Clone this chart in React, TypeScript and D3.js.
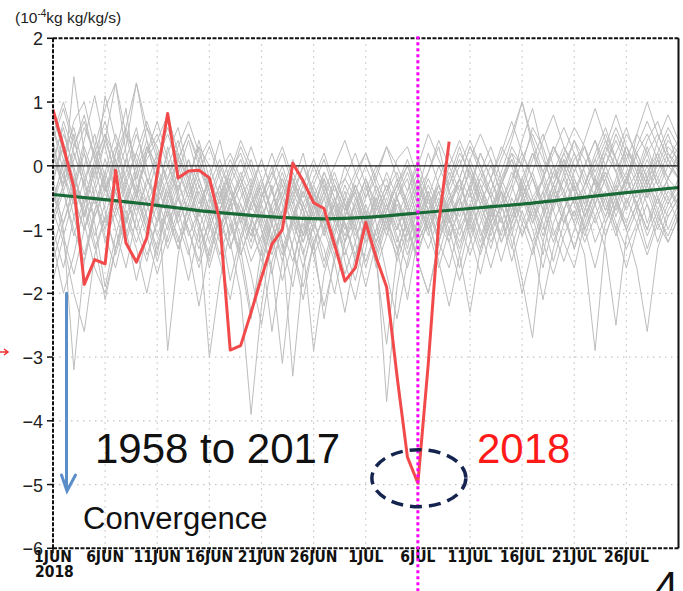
import React from 'react';
import * as d3 from 'd3';

const W = 683;
const H = 591;

// x axis: day index from 1 Jun 2018
const tickDays = [0, 5, 10, 15, 20, 25, 30, 35, 40, 45, 50, 55];
const tickLabels = ['1JUN', '6JUN', '11JUN', '16JUN', '21JUN', '26JUN', '1JUL', '6JUL', '11JUL', '16JUL', '21JUL', '26JUL'];
const yTicks = [2, 1, 0, -1, -2, -3, -4, -5, -6];

// 2018 (red)
const values2018 = [
  0.88, 0.3, -0.34, -1.86, -1.47, -1.54, -0.07, -1.21, -1.51, -1.13,
  -0.12, 0.82, -0.19, -0.08, -0.07, -0.19, -0.87, -2.89, -2.82, -2.3,
  -1.75, -1.23, -1.0, 0.04, -0.24, -0.58, -0.67, -1.23, -1.81, -1.6,
  -0.89, -1.44, -1.9, -3.3, -4.57, -4.98, -3.1, -0.9, 0.38,
];

// climatology (green)
const meanDays = [0, 5, 10, 15, 20, 25, 30, 35, 40, 45, 50, 55, 60];
const meanValues = [-0.45, -0.53, -0.62, -0.72, -0.79, -0.83, -0.81, -0.74, -0.67, -0.6, -0.51, -0.42, -0.34];

// 1958-2017 (grey), a sample of the years
const pastYears: number[][] = [
  [0.3, -0.2, 0.5, -0.4, -1.1, -0.6, 0.2, 0.9, -0.3, -0.8, -1.4, -0.5, 0.1, -0.2, -0.9, -1.6, -1.0, -0.4, -0.7, -1.2, -0.5, 0.0, -0.6, -1.3, -2.1, -1.2, -0.8, -0.3, -0.9, -1.5, -1.0, -0.4, -0.2, -0.7, -1.3, -0.6, -0.1, 0.3, -0.4, -1.0, -0.6, -0.2, 0.1, -0.5, -0.9, -0.3, 0.2, -0.1, -0.6, -0.4, 0.1, 0.3, -0.2, -0.7, -0.3, 0.2, 0.0, -0.4, -0.1, 0.3, 0.1],
  [-0.8, -0.3, 1.4, 0.2, -0.5, -1.2, -0.7, 0.1, 0.6, -0.2, -0.6, 0.3, -0.4, -1.1, -0.7, -0.2, -0.9, -1.8, -1.1, -0.6, -1.0, -1.7, -0.9, -0.4, -0.8, -1.4, -2.2, -1.5, -0.7, -0.3, -0.8, -1.6, -1.1, -0.5, -0.2, -0.9, -1.3, -0.8, -0.3, 0.1, -0.4, -1.1, -0.7, -0.2, 0.2, -0.3, -0.8, -1.4, -0.6, -0.1, 0.4, -0.1, -0.5, 0.0, 0.5, 0.1, -0.3, -0.9, -0.4, 0.0, -0.2],
  [-1.2, -2.0, -1.4, -0.6, 0.1, 0.5, -0.2, -0.9, -0.4, 0.2, 0.7, 0.1, -0.5, -0.3, 0.4, -0.2, -0.8, -0.5, -1.3, -2.3, -1.6, -0.9, -0.2, -0.6, -1.1, -0.7, -0.1, -0.5, -1.2, -0.8, -0.3, -0.9, -1.7, -2.4, -1.5, -0.8, -0.4, -0.9, -1.2, -0.6, 0.0, -0.5, -0.9, -0.4, -1.0, -1.8, -2.7, -1.2, -0.5, 0.1, -0.3, -0.8, -0.4, 0.2, -0.1, -0.6, -0.2, 0.3, -0.2, -0.5, -0.3],
  [0.8, 0.2, -0.3, 0.4, 1.1, 0.3, -0.4, -0.1, 0.5, 0.0, -0.7, -1.3, -0.8, -0.2, 0.3, -0.4, -1.0, -0.6, -0.1, -0.5, -0.9, -0.3, -1.2, -1.9, -1.0, -0.4, -0.9, -0.6, 0.0, -0.4, -1.1, -0.7, -0.3, -0.8, -0.4, 0.1, -0.5, -1.2, -1.6, -0.9, -0.4, 0.2, -0.2, -0.7, -0.3, 0.4, 0.9, 0.2, -0.4, -0.9, -0.5, 0.0, 0.4, -0.2, -0.8, -0.3, 0.5, 0.2, -0.3, 0.1, 0.4],
  [-0.2, -1.0, -3.2, -1.5, -0.7, -0.1, -0.6, -1.1, -0.5, 0.3, -0.2, -2.9, -1.4, -0.6, -0.9, -1.5, -0.7, -0.2, -0.6, -1.0, -1.4, -0.8, -0.4, -1.0, -1.6, -0.9, -1.3, -2.0, -1.2, -0.5, -0.9, -0.5, -1.0, -1.4, -0.8, -0.3, -0.7, -1.1, -0.5, -0.2, -0.8, -1.3, -0.9, -0.4, -0.9, -0.5, -0.1, -0.6, -1.1, -0.7, -0.2, -0.6, -1.2, -0.8, -0.4, -0.1, -0.7, -1.3, -0.8, -0.4, -0.6],
  [0.1, 0.6, -0.1, -0.8, -0.3, 0.4, 1.3, 0.2, -0.5, -1.0, -0.4, 0.2, 0.6, -0.1, -0.6, -0.2, 0.4, -0.3, -0.9, -0.4, 0.1, -0.4, -0.8, -0.3, 0.2, -0.5, -1.1, -0.6, -1.5, -2.1, -1.3, -0.6, -0.1, -0.5, -0.9, -0.4, 0.2, -0.3, -0.7, -0.2, -0.9, -1.4, -0.8, -0.3, 0.3, 0.0, -0.5, -0.2, 0.3, -0.1, -0.6, -0.3, 0.2, 0.6, 0.1, -0.4, -0.1, 0.4, 0.7, 0.2, -0.1],
  [-0.5, 0.0, 0.7, 1.0, 0.3, -0.3, -1.0, -1.6, -0.8, -0.2, -0.5, -1.0, -0.4, 0.1, -0.3, -0.8, -0.3, -1.2, -2.0, -3.9, -2.2, -1.1, -0.5, -0.9, -0.4, -0.8, -1.5, -0.9, -0.4, -0.9, -1.6, -1.0, -0.6, -1.2, -0.7, -0.2, -0.6, -0.3, -0.8, -1.3, -0.7, -0.2, -0.5, -1.2, -0.8, -0.3, -0.6, -1.0, -0.4, 0.0, -0.4, -1.0, -0.5, -0.1, -0.5, -0.9, -0.4, 0.0, -0.5, -0.8, -0.5],
  [-1.5, -0.9, -0.3, -0.7, -1.3, -0.8, -0.2, 0.3, 1.3, 0.4, -0.3, -0.8, -0.3, -0.7, -1.2, -0.6, -0.1, 0.2, -0.2, -0.7, -0.3, -0.7, -1.3, -0.8, -0.3, 0.1, -0.3, -0.7, -1.2, -0.7, -0.2, -0.6, -1.1, -0.6, -1.0, -1.5, -2.0, -1.2, -0.6, -0.2, -0.5, -0.1, 0.3, -0.2, -0.6, -1.1, -0.6, -0.2, -0.7, -1.2, -1.6, -0.9, -0.4, -0.1, -0.5, -0.2, -0.6, -1.0, -0.5, -0.2, -0.4],
  [0.4, -0.4, -1.1, -0.5, 0.0, -0.7, -1.4, -0.8, -0.3, -0.6, -1.1, -0.6, -0.1, -0.5, -1.0, -3.0, -1.8, -1.0, -0.5, -0.2, -0.7, -1.2, -0.7, -0.2, -0.6, -1.0, -0.5, -0.1, -0.6, -1.1, -0.7, -1.3, -3.7, -1.9, -1.0, -0.5, -1.0, -0.6, -0.1, -0.5, -1.0, -0.6, -1.1, -0.6, -0.1, -0.4, -0.9, -0.5, -0.1, -0.4, -0.9, -1.4, -2.9, -1.1, -0.6, -0.2, -0.6, -0.2, 0.1, -0.3, -0.7],
  [-0.6, 0.1, -0.4, 0.3, -0.2, 1.1, 0.4, -0.2, -0.7, -0.3, 0.2, -0.3, -0.9, -1.4, -0.7, -0.2, -0.6, -0.1, 0.2, -0.3, -0.8, -0.4, 0.0, -0.5, -1.1, -0.6, -0.2, -0.9, -1.4, -0.9, -0.4, 0.0, -0.4, -0.1, -0.6, -1.1, -0.7, -0.3, -0.8, -1.4, -2.3, -1.3, -0.7, -0.3, -0.8, -0.4, 0.1, 0.5, 0.0, -0.5, -0.1, 0.3, -0.3, -0.7, -0.2, 0.3, -0.1, -0.5, -0.2, 0.2, 0.0],
  [-1.0, -1.6, -0.8, -0.2, -0.9, -1.9, -1.1, -0.5, -1.0, -1.5, -0.8, -0.4, -0.9, -0.5, 0.0, -0.4, -1.1, -0.7, -0.3, -0.8, -1.3, -2.6, -1.5, -0.8, -1.2, -0.6, -0.9, -1.4, -0.8, -0.3, -0.7, -1.2, -0.7, -0.3, -0.7, -1.2, -0.8, -1.5, -2.2, -1.4, -0.8, -0.4, -0.9, -1.5, -0.9, -0.5, -1.0, -1.6, -0.9, -0.5, -0.9, -0.4, -0.8, -1.3, -2.5, -1.1, -0.7, -0.3, -0.8, -1.1, -0.7],
  [0.9, 0.2, 0.6, -0.1, -0.6, -0.1, 0.5, 0.0, -0.5, 0.2, 0.5, 0.0, -0.4, 0.1, -0.5, -1.0, -0.5, 0.0, -0.4, -0.9, -0.5, -0.1, -0.5, -0.2, -0.7, -0.3, 0.1, -0.4, -0.2, 0.2, -0.3, -0.8, -0.4, 0.1, 0.3, -0.2, -0.7, -0.2, 0.2, -0.2, 0.3, 0.0, -0.4, 0.1, 0.5, 1.0, 0.3, -0.2, 0.2, 0.6, 0.2, -0.3, 0.1, 0.5, 0.1, -0.2, 0.3, 0.7, 0.3, 0.0, 0.3],
  [-0.3, 0.5, 0.0, -0.9, -1.6, -2.0, -1.3, -0.6, -0.1, -0.8, -1.3, -0.7, -0.2, -0.8, -0.4, -0.9, -1.5, -2.1, -1.2, -0.6, -0.2, -0.7, -1.2, -3.3, -1.6, -0.9, -0.4, -0.8, -0.3, -0.7, -1.2, -0.8, -0.4, -0.9, -1.4, -0.9, -0.4, -0.9, -0.5, -0.9, -1.4, -0.9, -0.4, -0.8, -1.3, -0.7, -1.2, -2.1, -1.3, -0.7, -0.3, -0.7, -0.2, -0.5, -1.0, -0.5, -0.9, -0.4, -0.9, -1.2, -0.8],
  [0.2, -0.3, 0.3, 0.8, 0.1, -0.4, 0.1, -0.4, -1.0, -0.5, 0.1, 0.6, 0.1, -0.4, 0.1, 0.4, -0.1, -0.6, -0.2, 0.3, -0.2, -0.8, -0.4, 0.1, -0.3, -0.8, -0.4, 0.0, 0.4, -0.1, -0.5, -0.2, 0.3, 0.0, -0.4, 0.0, 0.5, 0.1, -0.3, 0.2, -0.1, -0.6, -0.2, 0.3, 0.0, -0.5, -0.1, 0.4, 0.8, 0.3, -0.1, 0.4, 0.9, 0.4, -0.1, 0.3, 0.0, -0.3, 0.2, 0.6, 0.3],
  [-0.9, -0.4, -1.0, -1.5, -0.8, -0.3, -0.8, -1.2, -0.6, -1.1, -1.7, -1.1, -0.5, -1.0, -1.5, -0.8, -0.3, -0.8, -1.4, -0.9, -0.4, -0.9, -1.5, -0.9, -1.3, -2.9, -1.7, -1.1, -0.5, -1.0, -1.5, -1.0, -0.5, -1.0, -0.6, -1.2, -0.8, -0.4, -0.9, -0.5, -1.1, -1.7, -1.0, -0.6, -1.1, -0.5, -0.8, -0.4, -1.0, -1.5, -1.0, -0.5, -0.9, -0.5, -1.0, -1.6, -1.0, -0.6, -1.2, -0.7, -0.4],
  [0.5, 1.0, 0.4, -0.2, 0.2, 0.7, 0.0, -0.6, -0.1, 0.4, -0.1, -0.6, -1.2, -0.6, -0.2, -0.7, -0.3, 0.1, -0.3, -0.8, -1.2, -0.6, -0.1, -0.6, -0.2, -0.6, -1.0, -0.5, -0.9, -1.5, -0.8, -0.3, -0.8, -1.3, -2.1, -1.1, -0.5, 0.0, -0.4, -0.8, -0.3, 0.2, -0.2, -0.6, -0.2, 0.2, -0.2, -0.7, -0.3, 0.1, -0.3, -0.8, -0.4, 0.0, 0.4, 0.0, -0.5, -0.1, 0.2, -0.2, 0.1],
  [-0.4, -0.9, -0.4, 0.2, -0.3, -0.9, -0.4, 0.1, -0.4, -1.0, -0.5, 0.0, 0.4, -0.2, -0.7, -1.2, -0.7, -0.3, -0.8, -1.3, -0.8, -1.3, -0.8, -0.3, -0.7, -1.2, -2.4, -1.4, -0.8, -0.3, -0.8, -1.2, -0.7, -0.3, 0.0, -0.4, -0.9, -0.5, -1.0, -1.6, -0.9, -0.4, 0.0, -0.4, -1.0, -0.6, -0.2, -0.7, -1.2, -0.7, -0.3, -0.8, -0.4, -0.8, -0.3, -0.7, -0.3, 0.1, -0.3, -0.6, -0.2],
  [-0.1, 0.3, -0.3, -0.8, 0.0, 0.5, 0.1, -0.5, 0.0, 0.6, 0.3, -0.3, 0.1, 0.5, 0.0, -0.5, 0.0, -0.4, -0.9, -0.4, -0.9, -1.4, -0.8, -0.4, 0.0, -0.4, -0.8, -0.3, -0.7, -0.4, 0.0, -0.4, -0.9, -0.5, -0.1, -0.6, -1.0, -0.6, 0.0, 0.4, 0.0, -0.4, -0.8, -0.3, 0.1, -0.3, -0.7, -0.2, 0.3, 0.0, 0.4, 0.1, -0.3, 0.2, 0.6, 0.2, -0.2, 0.2, 0.5, 0.1, -0.2],
  [-0.7, -1.2, -2.0, -2.6, -1.4, -0.8, -1.3, -0.7, -1.2, -0.7, -0.3, -0.8, -1.3, -0.8, -1.3, -0.9, -0.4, -0.9, -1.4, -0.9, -1.5, -0.9, -1.4, -0.8, -0.4, -0.9, -0.5, -1.1, -1.7, -1.2, -0.6, -1.1, -0.6, -1.1, -1.6, -1.0, -0.5, -1.0, -0.6, -0.3, -0.7, -1.2, -0.6, -1.1, -0.5, -0.9, -1.4, -0.8, -0.4, -0.9, -0.5, -1.0, -0.6, -1.1, -0.6, -0.2, -0.6, -1.0, -0.5, -1.0, -0.6],
  [0.6, -0.1, -0.6, 0.0, 0.5, -0.2, -0.7, -0.2, 0.2, -0.2, -0.6, -0.2, 0.2, -0.3, -0.8, -0.3, 0.1, -0.4, -0.9, -1.5, -1.1, -0.6, -0.2, -0.7, -1.2, -0.7, -0.2, -0.6, -1.1, -0.6, -1.0, -0.5, -1.0, -0.4, 0.0, -0.5, -1.0, -1.6, -1.0, -0.5, -0.1, -0.5, -0.9, -0.4, -0.7, -0.2, 0.2, -0.3, -0.7, -0.2, 0.2, -0.2, -0.6, -0.2, 0.2, 0.6, 0.1, -0.3, 0.0, 0.4, 0.2],
  [0.0, 0.7, 0.2, -0.3, 0.3, 0.9, 1.3, 0.5, -0.2, 0.3, 0.0, -0.5, -0.1, 0.4, -0.2, -0.7, -1.2, -0.6, -0.2, -0.6, -0.3, 0.2, -0.3, -0.7, -1.1, -0.5, -0.1, -0.5, -1.0, -0.6, -0.2, -0.7, -0.3, -0.8, -1.2, -0.7, -0.3, -0.7, -0.2, 0.3, -0.2, -0.6, -0.2, 0.2, 0.7, 0.2, -0.2, -0.6, -0.1, 0.3, 0.0, -0.4, 0.0, 0.4, 0.1, -0.3, 0.2, 0.5, 0.1, -0.2, 0.2],
  [-1.3, -0.7, -0.2, -0.6, -1.2, -2.1, -1.3, -0.8, -1.3, -2.0, -1.2, -0.7, -1.1, -1.8, -1.0, -0.5, -1.0, -0.6, -1.1, -1.7, -2.5, -1.5, -1.0, -1.5, -0.9, -1.4, -1.0, -1.5, -2.3, -1.4, -0.9, -1.4, -0.8, -1.3, -0.9, -1.5, -2.0, -1.2, -0.7, -1.1, -0.6, -1.0, -1.6, -1.0, -0.6, -1.1, -0.7, -1.2, -1.7, -1.1, -0.7, -1.2, -0.8, -0.4, -0.9, -1.3, -0.9, -1.4, -0.9, -0.5, -0.9],
  [0.4, 0.9, 0.3, 0.7, 0.1, -0.4, 0.0, 0.6, 1.3, 0.6, 0.1, 0.5, 0.0, -0.5, -0.1, 0.3, -0.2, -0.7, -0.3, 0.1, -0.4, -0.9, -0.5, -0.1, -0.5, 0.0, -0.4, -0.9, -0.5, -0.1, 0.2, -0.3, -0.7, -0.3, 0.1, -0.4, -0.1, 0.4, 0.0, -0.4, 0.1, 0.5, 0.1, -0.3, 0.2, 0.0, 0.6, 0.3, -0.2, 0.2, 0.6, 0.3, -0.1, 0.3, 0.0, 0.5, 0.2, -0.2, 0.4, 0.8, 0.4],
  [-0.4, -1.1, -1.7, -1.0, -0.5, -1.0, -0.4, -1.0, -1.8, -1.1, -0.6, -1.2, -0.7, -1.3, -2.2, -1.3, -0.8, -1.3, -0.7, -1.1, -0.6, -1.1, -1.8, -1.2, -0.6, -1.0, -1.6, -1.0, -0.6, -1.2, -1.9, -1.2, -0.7, -0.2, -0.7, -1.3, -0.9, -1.4, -0.8, -0.5, -1.1, -0.6, -1.0, -0.6, -1.2, -2.0, -1.3, -0.8, -0.3, -0.7, -1.3, -0.8, -0.4, -0.9, -0.5, -1.0, -1.6, -2.6, -1.3, -0.8, -0.5],
  [0.2, -0.4, 0.1, 0.6, 0.2, -0.3, -0.8, -0.3, 0.2, 0.7, 0.2, -0.2, 0.3, 0.7, 0.2, -0.3, -0.7, -0.2, 0.3, -0.1, -0.6, -0.2, 0.2, -0.3, -0.7, -1.3, -0.7, -0.2, -0.6, -1.0, -0.5, -0.1, 0.3, -0.2, -0.6, -0.2, -0.7, -1.2, -0.6, -0.2, 0.3, -0.1, -0.5, -0.9, -0.4, 0.1, 0.5, 0.1, -0.3, 0.2, -0.2, -0.6, -0.2, 0.3, 0.8, 0.3, -0.1, -0.5, 0.1, 0.5, 0.0],
  [-0.6, -0.1, -0.8, -1.4, -0.7, -0.2, 0.3, -0.3, -0.8, -1.4, -0.9, -0.3, -0.8, -0.4, -0.9, -1.4, -0.8, -0.3, 0.1, -0.4, -1.0, -1.6, -3.1, -1.6, -0.8, -0.3, -0.7, -1.3, -0.8, -0.4, -0.9, -1.5, -0.9, -0.5, -1.1, -0.6, -0.2, -0.6, -1.1, -0.7, -0.3, -0.8, -1.3, -0.7, -0.3, -0.8, -1.2, -0.7, -0.3, -0.8, -1.3, -0.7, -0.2, -0.6, -1.1, -0.6, -0.2, -0.6, -1.0, -0.6, -0.3],
  [-0.2, 0.3, -0.2, -0.6, -0.1, 0.4, -0.1, 0.5, 0.1, -0.4, -0.9, -0.4, 0.1, 0.5, 0.1, -0.4, -0.9, -1.3, -0.8, -0.3, 0.1, -0.4, -0.9, -0.5, 0.0, -0.5, -1.0, -0.6, -0.2, -0.5, -1.0, -1.5, -2.8, -1.4, -0.8, -0.3, -0.8, -0.4, -0.9, -0.4, 0.1, -0.3, -0.8, -0.3, 0.1, -0.4, -0.9, -0.4, 0.0, -0.4, -0.8, -0.3, 0.1, -0.3, -0.7, -0.2, 0.2, -0.2, -0.6, -0.2, 0.2],
  [-0.8, -0.3, 0.2, -0.3, -0.8, -0.4, 0.2, 0.6, 0.0, -0.6, -0.2, -0.7, -1.3, -0.8, -0.3, -0.8, -1.4, -0.9, -1.5, -2.4, -1.3, -0.7, -0.3, -0.8, -1.4, -0.8, -0.3, -0.8, -1.3, -1.8, -1.1, -0.6, -1.0, -0.5, -1.0, -1.4, -0.8, -0.3, -0.8, -1.2, -0.8, -0.3, -0.7, -1.2, -0.7, -0.2, -0.6, -1.1, -0.6, -0.2, -0.6, -1.1, -0.6, -0.2, -0.6, -1.0, -0.6, -0.2, -0.7, -0.3, -0.6],
  [0.6, 0.1, -0.5, -1.0, -0.4, 0.1, -0.4, -0.9, -0.4, 0.1, 0.4, 0.8, 0.2, -0.2, 0.3, 0.0, -0.5, -0.1, 0.4, 0.0, -0.5, -0.1, 0.3, -0.2, -0.6, -0.2, 0.2, -0.3, -0.7, -0.2, 0.2, -0.2, -0.6, -1.0, -0.5, -0.1, -0.5, -0.9, -0.4, 0.0, 0.4, 0.0, -0.5, -0.1, 0.4, 1.0, 0.4, -0.1, 0.3, 0.0, -0.4, 0.0, 0.4, 0.0, -0.4, 0.1, 0.5, 1.0, 0.5, 0.1, -0.2],
  [-1.8, -1.1, -0.5, -1.0, -0.5, -1.1, -1.6, -0.9, -0.4, -0.9, -1.5, -0.9, -0.5, -1.0, -1.6, -1.0, -0.5, -1.1, -0.6, -1.1, -0.7, -1.2, -0.7, -1.3, -1.9, -1.2, -0.8, -1.3, -0.9, -1.4, -0.8, -1.3, -0.8, -1.5, -1.0, -0.6, -1.1, -0.6, -1.2, -1.8, -1.2, -0.7, -1.2, -0.8, -1.5, -0.9, -0.5, -0.9, -1.5, -0.9, -0.5, -1.0, -1.6, -0.9, -0.5, -1.0, -0.6, -1.1, -0.7, -1.2, -0.8],
];

const labelFont = '"Liberation Sans", Arial, sans-serif';
const axisFont = '"DejaVu Sans Condensed", "DejaVu Sans", sans-serif';

export default function App() {
  const x = d3.scaleLinear().domain([0, 60]).range([53, 678.5]);
  const y = d3.scaleLinear().domain([-6, 2]).range([548.3, 38.3]);

  const dailyLine = d3.line<number>().x((_, i) => x(i)).y(d => y(d));
  const meanLine = d3
    .line<number>()
    .x((_, i) => x(meanDays[i]))
    .y(d => y(d))
    .curve(d3.curveNatural);

  const [x0, x1] = x.range();
  const [yBottom, yTop] = y.range();
  const markDay = 35;

  return (
    <svg width={W} height={H} style={{ position: 'absolute', left: 0, top: 0, background: '#fff' }}>
      <defs>
        <clipPath id="plot">
          <rect x={x0} y={yTop} width={x1 - x0} height={yBottom - yTop} />
        </clipPath>
      </defs>

      {/* units */}
      <text x={15} y={23} fontFamily={labelFont} fontSize={15.5} fill="#222">
        (10<tspan fontSize={10} dy={-6}>-4</tspan>
        <tspan dy={6}>kg kg/kg/s)</tspan>
      </text>

      {/* grid */}
      <g stroke="#c4c4c4" strokeWidth={1.2} strokeDasharray="1.5,4.5">
        {yTicks.filter(t => t !== 0 && t !== 2 && t !== -6).map(t => (
          <line key={t} x1={x0} x2={x1} y1={y(t)} y2={y(t)} />
        ))}
        {tickDays.slice(1).map(d => (
          <line key={d} x1={x(d)} x2={x(d)} y1={yTop} y2={yBottom} />
        ))}
      </g>

      {/* 1958-2017 */}
      <g clipPath="url(#plot)" fill="none" stroke="#bdbdbd" strokeWidth={1} strokeLinejoin="round">
        {pastYears.map((s, i) => (
          <path key={i} d={dailyLine(s) ?? ''} />
        ))}
      </g>

      {/* zero line */}
      <line x1={x0} x2={x1} y1={y(0)} y2={y(0)} stroke="#111" strokeWidth={1.2} />

      {/* climatology */}
      <path d={meanLine(meanValues) ?? ''} fill="none" stroke="#1a6a38" strokeWidth={3.2} />

      {/* 2018 */}
      <path d={dailyLine(values2018) ?? ''} fill="none" stroke="#f24a4a" strokeWidth={3} strokeLinejoin="round" />

      {/* frame */}
      <g stroke="#111" strokeWidth={2} fill="none">
        <line x1={x0} x2={x1} y1={yTop} y2={yTop} strokeDasharray="4,1.5" />
        <line x1={x0} x2={x1} y1={yBottom} y2={yBottom} strokeDasharray="4,1.5" />
        <line x1={x0} x2={x0} y1={yTop} y2={yBottom} strokeDasharray="4,1.5" />
        <line x1={x1} x2={x1} y1={yTop} y2={yBottom} />
      </g>

      {/* y axis */}
      <g>
        {yTicks.map(t => (
          <g key={t}>
            <line x1={x0 - 6} x2={x0} y1={y(t)} y2={y(t)} stroke="#111" strokeWidth={1.5} />
            <text
              x={43}
              y={y(t) + 7}
              textAnchor="end"
              fontFamily={labelFont}
              fontSize={18}
              fill="#222"
            >
              {t < 0 ? '\u2212' + Math.abs(t) : String(t)}
            </text>
          </g>
        ))}
      </g>

      {/* x axis */}
      <g>
        {tickDays.map((d, i) => (
          <g key={d}>
            <line x1={x(d)} x2={x(d)} y1={yBottom} y2={yBottom + 5} stroke="#111" strokeWidth={1.5} />
            <text
              x={x(d)}
              y={562}
              textAnchor="middle"
              fontFamily={axisFont}
              fontWeight="bold"
              fontSize={15.5}
              fill="#111"
            >
              {tickLabels[i]}
            </text>
          </g>
        ))}
        <text x={x(0) - 18} y={577} fontFamily={axisFont} fontWeight="bold" fontSize={15.5} fill="#111">
          2018
        </text>
      </g>

      {/* 6 JUL marker */}
      <line
        x1={x(markDay)}
        x2={x(markDay)}
        y1={yTop - 2}
        y2={H}
        stroke="#ff00ff"
        strokeWidth={3}
        strokeDasharray="3,3"
      />

      {/* minimum highlight */}
      <ellipse
        cx={x(markDay) + 1}
        cy={y(-4.9)}
        rx={47}
        ry={28.5}
        fill="none"
        stroke="#14244f"
        strokeWidth={3.5}
        strokeDasharray="12,7"
      />

      {/* convergence arrow */}
      <g stroke="#5b8ec8" strokeWidth={3} fill="none" strokeLinecap="round">
        <line x1={66.5} x2={66.5} y1={y(-2)} y2={y(-5.05)} />
        <polyline points={`61.5,${y(-4.85)} 67,${y(-5.1)} 75.5,${y(-4.85)}`} />
      </g>
      <path d="M0,352 L8,352 M4,349 L8,352 L4,355" stroke="#e33" strokeWidth={1.5} fill="none" />

      <text x={95} y={463} fontFamily={labelFont} fontSize={42} fill="#111">
        1958 to 2017
      </text>
      <text x={477} y={463} fontFamily={labelFont} fontSize={42} fill="#ff1a1a">
        2018
      </text>
      <text x={83} y={529} fontFamily={labelFont} fontSize={31} fill="#111">
        Convergence
      </text>
      <text x={655} y={601} fontFamily={labelFont} fontSize={42} fill="#111">
        4
      </text>
    </svg>
  );
}
